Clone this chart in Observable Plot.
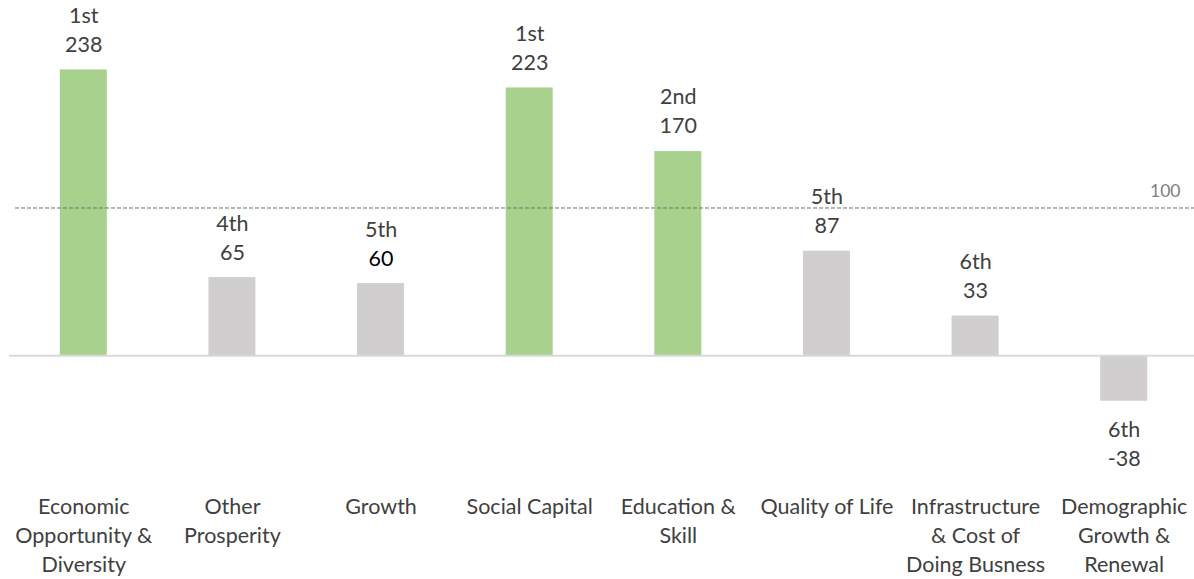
<!DOCTYPE html>
<html><head><meta charset="utf-8">
<script src="https://cdn.jsdelivr.net/npm/d3@7"></script>
<script src="https://cdn.jsdelivr.net/npm/@observablehq/plot@0.6"></script>
<style>body{margin:0;background:#fff;overflow:hidden}</style>
</head><body><div id="chart"></div>
<script>
const categories = ["Economic\nOpportunity &\nDiversity","Other\nProsperity","Growth","Social Capital","Education &\nSkill","Quality of Life","Infrastructure\n& Cost of\nDoing Busness","Demographic\nGrowth &\nRenewal"];
const values = [238, 65, 60, 223, 170, 87, 33, -38];
const ranks = ["1st","4th","5th","1st","2nd","5th","6th","6th"];
const highlighted = [true,false,false,true,true,false,false,false];
const valueColors = ["#404040","#404040","#000000","#404040","#404040","#404040","#404040","#404040"];
const refLabel = "100";
const refLevel = [123]; // dashed line position as drawn in the picture

const data = categories.map((c,i)=>({cat:c, value:values[i], rank:ranks[i], hi:highlighted[i], vc:valueColors[i]}));
const pos = data.filter(d=>d.value>=0), neg = data.filter(d=>d.value<0);
const font = "Lato, 'Open Sans', sans-serif";
const fs = 21.5;

const chart = Plot.plot({
  width: 1194, height: 579,
  marginLeft: 9, marginRight: -4, marginTop: 7, marginBottom: 99,
  style: {fontFamily: font, fontSize: fs + "px", color: "#404040", background: "#fff", overflow: "visible"},
  x: {domain: categories, paddingInner: 0.684, paddingOuter: 0.342, round: false, label: null},
  y: {domain: [-104, 290], axis: null},
  marks: [
    Plot.barY(data, {x:"cat", y:"value", fill: d=>d.hi ? "#a9d18e" : "#d0cece"}),
    Plot.ruleY([0], {stroke:"#d9d9d9", strokeWidth:2}),
    Plot.ruleY(refLevel, {stroke:"#707070", strokeDasharray:"4,2", strokeWidth:1, insetLeft:6}),
    Plot.text(refLevel, {y: d=>d, text: ()=>refLabel, frameAnchor:"right", dx:-18, dy:-17, fill:"#808080", fontSize:17.5}),
    Plot.text(pos, {x:"cat", y:"value", text:"rank", dy:-54, fill:"#404040", fontSize:fs}),
    Plot.text(pos, {x:"cat", y:"value", text: d=>String(d.value), dy:-25, fill: d=>d.vc, fontSize:fs}),
    Plot.text(neg, {x:"cat", y:"value", text:"rank", dy:29, fill:"#404040", fontSize:fs}),
    Plot.text(neg, {x:"cat", y:"value", text: d=>String(d.value), dy:58, fill: d=>d.vc, fontSize:fs}),
    Plot.axisX({tickSize:0, tickPadding:13, fontSize:fs, lineHeight:1.35, fill:"#404040", label:null})
  ]
});
document.getElementById("chart").append(chart);
</script></body></html>
